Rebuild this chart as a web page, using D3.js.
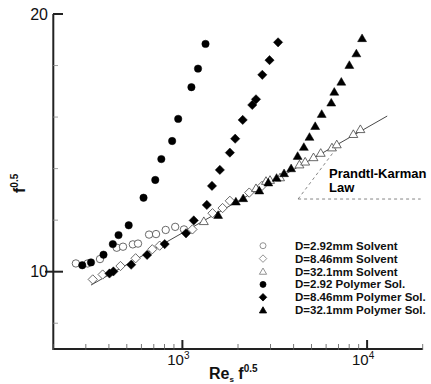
<!DOCTYPE html>
<html><head><meta charset="utf-8">
<script src="https://cdn.jsdelivr.net/npm/d3@7/dist/d3.min.js"></script>
<style>body{margin:0;background:#fff}svg{display:block}text{font-family:"Liberation Sans",Arial,Helvetica,sans-serif}</style>
</head><body>
<svg id="c" width="431" height="384"></svg>
<script>
// ---- data ----
const solv292X = [265,307,358,441,477,539,575,660,720,812,914,1020];
const solv292Y = [10.32,10.32,10.49,10.93,10.97,11.06,11.09,11.44,11.46,11.62,11.74,11.64];
const solv846X = [327,370,462,558,687,753,1133,1455,1650,1807,2301,2698];
const solv846Y = [9.70,9.89,10.22,10.52,10.87,11.01,11.64,12.27,12.47,12.75,13.07,13.33];
const solv321X = [1306,2503,2836,2982,3380,4302,4620,5126,5609,6452,6852,8424,9196];
const solv321Y = [11.96,13.24,13.52,13.56,13.66,14.16,14.27,14.44,14.61,14.82,14.94,15.34,15.53];
const poly292X = [287,320,374,420,451,512,616,713,769,880,949,1119,1215,1334];
const poly292Y = [10.25,10.36,10.66,11.07,11.42,11.80,12.87,13.56,14.37,15.07,15.93,17.16,17.88,18.84];
const poly846X = [403,423,528,644,802,1046,1152,1356,1446,1595,1807,1931,2121,2389,2503,2708,2963,3296];
const poly846Y = [9.93,10.01,10.27,10.65,11.07,11.49,11.99,12.59,13.33,13.95,14.62,15.16,15.89,16.47,16.69,17.64,18.21,18.90];
const poly321X = [1561,1948,2134,2608,2919,3235,3552,3878,4206,4545,4876,5236,5679,6397,6643,7250,8014,8747,9393];
const poly321Y = [12.20,12.72,12.85,13.15,13.46,13.64,13.82,14.01,14.49,14.84,15.23,15.65,16.12,16.56,16.98,17.37,18.02,18.47,19.06];
// Prandtl-Karman line end points
const pkX = [320, 12850];
const pkY = [9.48, 16.04];
// annotation dashed lines
const dashDiagX = [4230, 7160];
const dashDiagY = [12.82, 14.99];
const dashHorX = [4230, 19500];
const dashHorY = [12.82, 12.82];
const legendLabels = ["D=2.92mm Solvent","D=8.46mm Solvent","D=32.1mm Solvent","D=2.92 Polymer Sol.","D=8.46mm Polymer Sol.","D=32.1mm Polymer Sol."];
const xMajor = [1000, 10000];
const xMajorExp = ["3","4"];
const yMajor = [10, 20];
const yMinor = [8, 12, 14, 16, 18];

// ---- chart ----
const svg = d3.select("#c");
const x = d3.scaleLog().domain([200, 20000]).range([53.3, 422.7]);
const y = d3.scaleLinear().domain([7, 20]).range([349, 14]);

function shape(type, s) {
  if (type === "circle") { const r = s; return `M${r},0A${r},${r} 0 1,1 ${-r},0A${r},${r} 0 1,1 ${r},0Z`; }
  if (type === "diamond") { const d = s*1.25; return `M0,${-d}L${d},0L0,${d}L${-d},0Z`; }
  const h = s*1.15; return `M0,${-h}L${h*1.05},${h*0.8}L${-h*1.05},${h*0.8}Z`;
}
const series = [
  {X: solv292X, Y: solv292Y, t: "circle", fill: false},
  {X: solv846X, Y: solv846Y, t: "diamond", fill: false},
  {X: solv321X, Y: solv321Y, t: "triangle", fill: false},
  {X: poly292X, Y: poly292Y, t: "circle", fill: true},
  {X: poly846X, Y: poly846Y, t: "diamond", fill: true},
  {X: poly321X, Y: poly321Y, t: "triangle", fill: true}
];

// lines
const line = d3.line().x(d => x(d[0])).y(d => y(d[1]));
svg.append("path").attr("d", line(d3.zip(pkX, pkY))).attr("fill","none").attr("stroke","#333").attr("stroke-width",0.9);
svg.append("path").attr("d", line(d3.zip(dashDiagX, dashDiagY))).attr("fill","none").attr("stroke","#777").attr("stroke-width",0.9).attr("stroke-dasharray","3,3");
svg.append("path").attr("d", line(d3.zip(dashHorX, dashHorY))).attr("fill","none").attr("stroke","#777").attr("stroke-width",0.9).attr("stroke-dasharray","3,3");

// points
series.forEach(s => {
  svg.append("g").selectAll("path").data(d3.zip(s.X, s.Y)).join("path")
    .attr("transform", d => `translate(${x(d[0])},${y(d[1])})`)
    .attr("d", shape(s.t, 3.7))
    .attr("fill", s.fill ? "#000" : "#fff")
    .attr("stroke", s.fill ? "#000" : "#444")
    .attr("stroke-width", s.fill ? 0.5 : 0.8);
});

// axes
const ax = svg.append("g").attr("stroke", "#222");
ax.append("line").attr("x1", x.range()[0]).attr("x2", x.range()[1]).attr("y1", 349).attr("y2", 349).attr("stroke-width", 2);
ax.append("line").attr("x1", 53.3).attr("x2", 53.3).attr("y1", 14).attr("y2", 350).attr("stroke-width", 2);
const xMinor = x.ticks().filter(v => !xMajor.includes(v));
ax.selectAll(".xm").data(xMinor).join("line").attr("x1", d => x(d)).attr("x2", d => x(d)).attr("y1", 344).attr("y2", 350).attr("stroke-width", 0.8).attr("stroke","#555");
ax.selectAll(".xM").data(xMajor).join("line").attr("x1", d => x(d)).attr("x2", d => x(d)).attr("y1", 340).attr("y2", 350).attr("stroke-width", 2);
ax.selectAll(".ym").data(yMinor).join("line").attr("y1", d => y(d)).attr("y2", d => y(d)).attr("x1", 53).attr("x2", 58).attr("stroke-width", 0.8).attr("stroke","#888");
ax.selectAll(".yM").data(yMajor).join("line").attr("y1", d => y(d)).attr("y2", d => y(d)).attr("x1", d => d === 20 ? 53 : 45).attr("x2", 63).attr("stroke-width", 2);

// tick labels
svg.selectAll(".yl").data(yMajor).join("text").attr("x", 48).attr("y", d => y(d)).attr("dy", "0.36em")
  .attr("text-anchor", "end").attr("font-size", 16).attr("fill", "#111").text(d => d);
const xl = svg.selectAll(".xl").data(xMajor).join("text").attr("x", d => x(d) - 4).attr("y", 365)
  .attr("text-anchor", "middle").attr("font-size", 15).attr("fill", "#111");
xl.append("tspan").text("10");
xl.append("tspan").attr("dy", -6).attr("font-size", 10).text((d, i) => xMajorExp[i]);

// axis titles
const xt = svg.append("text").attr("x", 209).attr("y", 379).attr("font-size", 16).attr("font-weight", "bold").attr("fill", "#111");
xt.append("tspan").text("Re");
xt.append("tspan").attr("dy", 3).attr("font-size", 8).text("s");
xt.append("tspan").attr("dy", -3).text(" f");
xt.append("tspan").attr("dy", -7).attr("font-size", 10).text("0.5");
const yt = svg.append("text").attr("transform", "translate(25,193) rotate(-90)").attr("font-size", 16).attr("font-weight", "bold").attr("fill", "#111");
yt.append("tspan").text("f");
yt.append("tspan").attr("dy", -7).attr("font-size", 10).text("0.5");

// annotation
svg.append("text").attr("x", 329).attr("y", 178).attr("font-size", 13).attr("font-weight", "bold").text("Prandtl-Karman");
svg.append("text").attr("x", 329).attr("y", 192).attr("font-size", 13).attr("font-weight", "bold").text("Law");

// legend
const lg = svg.append("g");
legendLabels.forEach((lab, i) => {
  const s = series[i], cy = 245.7 + i * 12.9;
  lg.append("path").attr("transform", `translate(263,${cy})`).attr("d", shape(s.t, 3))
    .attr("fill", s.fill ? "#000" : "#fff").attr("stroke", s.fill ? "#000" : "#777").attr("stroke-width", 0.8);
  lg.append("text").attr("x", 295).attr("y", cy + 4).attr("font-size", 11.5).attr("font-weight", "bold").attr("fill", "#111").text(lab);
});
</script>
</body></html>
